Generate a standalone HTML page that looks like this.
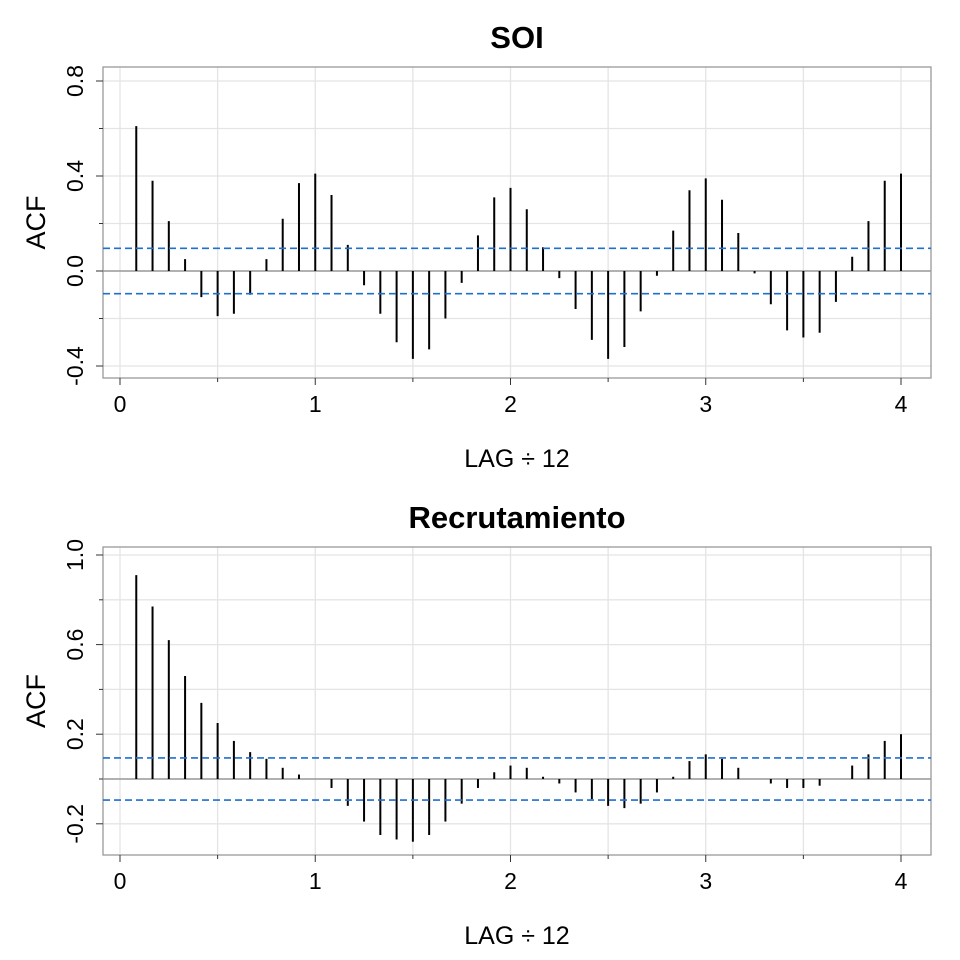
<!DOCTYPE html>
<html><head><meta charset="utf-8"><style>body{margin:0;background:#fff}svg{display:block}</style></head>
<body>
<svg id="s" width="960" height="960" xmlns="http://www.w3.org/2000/svg" font-family="Liberation Sans, sans-serif"></svg>
<script>
const s=document.getElementById('s');let h='';
function panel(o){
 const {top,bot,y0,ppu,yt,ylab,minor,vals,ci,title}=o;
 const X=v=>120+v*195.25, Y=v=>y0-v*ppu;
 for(let v=0;v<=4;v+=0.5){h+=`<line x1="${X(v)}" x2="${X(v)}" y1="${top}" y2="${bot}" stroke="#e4e4e4" stroke-width="1.3"/>`}
 minor.forEach(v=>{h+=`<line x1="103" x2="931" y1="${Y(v)}" y2="${Y(v)}" stroke="#e4e4e4" stroke-width="1.3"/>`});
 h+=`<rect x="103" y="${top}" width="828" height="${bot-top}" fill="none" stroke="#999" stroke-width="1.3"/>`;
 h+=`<line x1="103" x2="931" y1="${y0}" y2="${y0}" stroke="#999" stroke-width="1.5"/>`;
 minor.forEach(v=>{const major=yt.includes(v);h+=`<line x1="${major?96:99}" x2="103" y1="${Y(v)}" y2="${Y(v)}" stroke="#333"/>`});
 yt.forEach(v=>{const t=v.toFixed(1);h+=`<text transform="translate(83,${Y(v)}) rotate(-90)" text-anchor="middle" font-size="23" fill="#000">${t}</text>`});
 for(let v=0;v<=4;v+=0.5){const mj=v%1==0;h+=`<line x1="${X(v)}" x2="${X(v)}" y1="${bot}" y2="${bot+(mj?7:4)}" stroke="#333"/>`;if(mj)h+=`<text x="${X(v)}" y="${bot+34}" text-anchor="middle" font-size="23" fill="#000">${v}</text>`}
 vals.forEach((v,i)=>{const x=X((i+1)/12);h+=`<line x1="${x}" x2="${x}" y1="${y0}" y2="${Y(v)}" stroke="#000" stroke-width="2"/>`});
 [ci,-ci].forEach(c=>{h+=`<line x1="103" x2="931" y1="${Y(c)}" y2="${Y(c)}" stroke="#1f6fd1" stroke-width="1.6" stroke-dasharray="7,4"/>`});
 h+=`<text x="517" y="${top-19}" text-anchor="middle" font-size="31" font-weight="bold">${title}</text>`;
 h+=`<text x="517" y="${bot+89}" text-anchor="middle" font-size="25" fill="#000">LAG ÷ 12</text>`;
 h+=`<text transform="translate(45,${(top+bot)/2}) rotate(-90)" text-anchor="middle" font-size="27" fill="#000">ACF</text>`;
}
panel({top:67,bot:378,y0:271,ppu:237.5,yt:[-0.4,0,0.4,0.8],minor:[-0.4,-0.2,0,0.2,0.4,0.6,0.8],ci:0.0955,title:'SOI',
vals:[0.61,0.38,0.21,0.05,-0.11,-0.19,-0.18,-0.10,0.05,0.22,0.37,0.41,0.32,0.11,-0.06,-0.18,-0.30,-0.37,-0.33,-0.20,-0.05,0.15,0.31,0.35,0.26,0.10,-0.03,-0.16,-0.29,-0.37,-0.32,-0.17,-0.02,0.17,0.34,0.39,0.30,0.16,-0.01,-0.14,-0.25,-0.28,-0.26,-0.13,0.06,0.21,0.38,0.41]});
panel({top:547,bot:855,y0:779,ppu:224,yt:[-0.2,0.2,0.6,1.0],minor:[-0.2,0,0.2,0.4,0.6,0.8,1.0],ci:0.094,title:'Recrutamiento',
vals:[0.91,0.77,0.62,0.46,0.34,0.25,0.17,0.12,0.09,0.05,0.02,0.0,-0.04,-0.12,-0.19,-0.25,-0.27,-0.28,-0.25,-0.19,-0.11,-0.04,0.03,0.06,0.05,0.01,-0.02,-0.06,-0.09,-0.12,-0.13,-0.11,-0.06,0.01,0.08,0.11,0.09,0.05,0.0,-0.02,-0.04,-0.04,-0.03,0.0,0.06,0.11,0.17,0.20]});
s.innerHTML=h;
</script>
</body></html>
